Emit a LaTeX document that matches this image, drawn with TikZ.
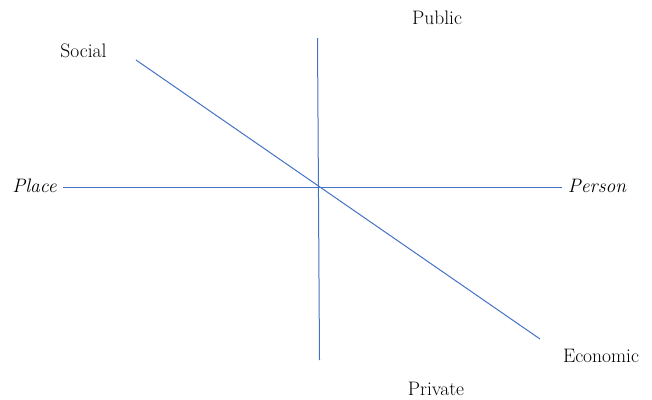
\documentclass[tikz,border=0pt]{standalone}
\usepackage{tikz}
\definecolor{axisblue}{RGB}{68,114,196}
\tikzstyle{axis}=[draw=axisblue,line width=1pt]
\tikzstyle{lbl}=[anchor=base,inner sep=0pt,font=\fontsize{19.5}{23}\selectfont]

\begin{document}
\begin{tikzpicture}[x=1pt,y=-1pt]
\useasboundingbox (0,0) rectangle (652,399);
\coordinate (V1) at (317.5,38);
\coordinate (V2) at (319.5,360);
\coordinate (H1) at (63,187);
\coordinate (H2) at (562,187);
\coordinate (D1) at (136,60);
\coordinate (D2) at (540,339);
\node[lbl] (Pub) at (437,24) {Public};
\node[lbl] (Pri) at (436,395) {Private};
\node[lbl] (Soc) at (83.5,57) {Social};
\node[lbl] (Eco) at (601,362) {Economic};
\node[lbl] (Pla) at (34.5,192) {\itshape Place};
\node[lbl] (Per) at (597,192) {\itshape Person};
\draw[axis] (V1) -- (V2);
\draw[axis] (H1) -- (H2);
\draw[axis] (D1) -- (D2);
\end{tikzpicture}
\end{document}
